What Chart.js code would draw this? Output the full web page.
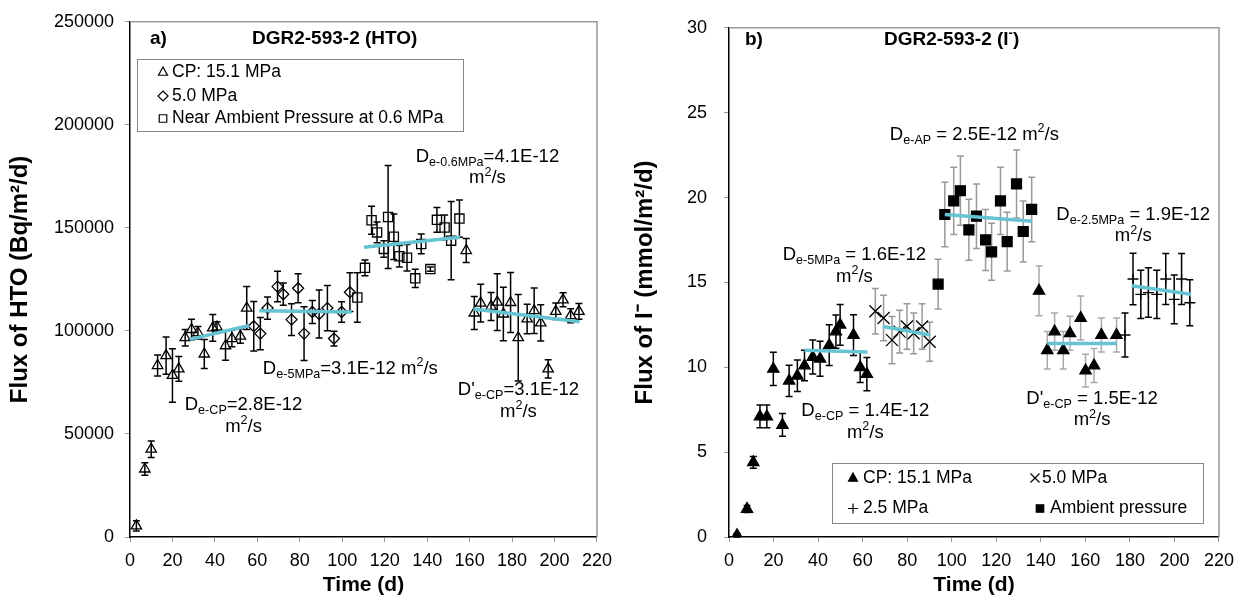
<!DOCTYPE html>
<html>
<head>
<meta charset="utf-8">
<title>DGR2-593-2 flux</title>
<script src="https://cdn.jsdelivr.net/npm/chart.js@4.4.1/dist/chart.umd.min.js"></script>
<style>
  html, body { margin: 0; padding: 0; background: #fff; }
  #wrap { position: relative; width: 1242px; height: 601px; }
  .panel { position: absolute; top: 0; height: 601px; }
</style>
</head>
<body>
<div id="wrap">
  <div class="panel" style="left:0;width:620px"><canvas id="chartA"></canvas></div>
  <div class="panel" style="left:620px;width:622px"><canvas id="chartB"></canvas></div>
</div>
<script>
// ---- panel a) HTO flux (Bq/m2/d) ----
const aCpDay = [3, 7, 10, 13, 17, 20, 23, 26, 29, 32, 35, 39, 41, 45, 48, 52, 55];
const aCpFlux = [5400, 33000, 42600, 83200, 88000, 78400, 81600, 96700, 100700, 99100, 88800, 101500, 101900, 92800, 96300, 97500, 111100];
const aCpErr = [2500, 3000, 4000, 5100, 9000, 13000, 6000, 4000, 5000, 3000, 7000, 6500, 2500, 7000, 4000, 3500, 10400];

const aP5Day = [58.3, 61.4, 64.8, 69.5, 72.2, 76.1, 79.2, 82.0, 85.9, 89.1, 93.0, 96.1, 99.7, 103.6];
const aP5Flux = [102300, 98700, 111100, 121500, 117800, 105500, 120700, 98700, 109200, 108200, 111100, 96300, 109200, 118800];
const aP5Err = [12000, 7800, 5400, 7400, 5400, 7700, 7000, 13000, 5600, 11600, 11000, 3600, 5000, 9400];

const aAmbDay = [107.1, 110.7, 113.8, 116.4, 119.6, 121.6, 124.3, 126.9, 130.5, 134.4, 137.2, 141.5, 144.6, 148.2, 151.3, 155.2];
const aAmbFlux = [116200, 130600, 153700, 147800, 139800, 155300, 145700, 136200, 135500, 125500, 142200, 130000, 153900, 150200, 143800, 154500];
const aAmbErr = [12000, 3800, 6800, 5000, 4000, 25000, 11000, 5200, 6400, 4400, 4800, 1000, 6000, 6000, 19000, 9000];

const aCp2Day = [158.4, 162.2, 165.2, 170.1, 173.0, 175.9, 179.3, 182.9, 187.1, 190.4, 193.5, 197.0, 200.6, 204.0, 207.6, 211.5];
const aCp2Flux = [139000, 108700, 113500, 111900, 114000, 108200, 113800, 96700, 105800, 109800, 103900, 81600, 109500, 115100, 107400, 109500];
const aCp2Err = [5800, 8000, 9200, 6800, 13800, 13000, 14600, 21000, 7200, 11000, 8800, 4400, 4000, 3400, 3400, 3800];

// fitted segments (start/end)
const aFitCpDay = [28.1, 56.2], aFitCpFlux = [95900, 102600];
const aFitP5Day = [60.9, 104.4], aFitP5Flux = [109800, 109200];
const aFitAmbDay = [110.2, 155.5], aFitAmbFlux = [140600, 145400];
const aFitCp2Day = [161.8, 211.8], aFitCp2Flux = [110600, 104400];

// ---- panel b) iodide flux (mmol/m2/d) ----
const bCpDay = [3.6, 8.1, 10.9, 13.9, 17.0, 19.9, 24.0, 27.0, 30.7, 33.9, 37.6, 40.9, 45.0, 48.0, 49.9, 55.9, 58.9, 61.9];
const bCpFlux = [0.1, 1.65, 4.4, 7.1, 7.1, 9.9, 6.6, 9.2, 9.5, 10.1, 10.6, 10.5, 11.3, 12.1, 12.5, 11.9, 10.0, 9.6];
const bCpErr = [0.1, 0.2, 0.35, 0.67, 0.67, 0.98, 0.67, 0.92, 0.93, 0.9, 1.0, 1.03, 1.2, 0.98, 1.2, 1.2, 0.9, 0.98];

const bP5Day = [65.7, 69.4, 73.2, 76.6, 79.9, 82.9, 86.7, 90.1];
const bP5Flux = [13.3, 12.9, 11.6, 12.1, 12.4, 12.0, 12.4, 11.5];
const bP5Err = [1.34, 1.34, 1.39, 1.26, 1.34, 1.2, 1.34, 1.15];

const bAmbDay = [93.9, 96.9, 100.9, 103.9, 107.7, 111.1, 115.2, 117.9, 121.9, 124.9, 129.1, 132.1, 135.9];
const bAmbFlux = [14.9, 19.0, 19.8, 20.4, 18.1, 18.9, 17.5, 16.8, 19.8, 17.4, 20.8, 18.0, 19.3];
const bAmbErr = [1.46, 1.9, 1.98, 2.04, 1.8, 1.9, 1.8, 1.68, 1.98, 1.73, 2.0, 1.8, 1.9];

const bCp2Day = [139.2, 142.9, 146.2, 150.1, 153.1, 157.9, 160.1, 163.9, 167.2, 174.0];
const bCp2Flux = [14.5, 11.0, 12.1, 11.0, 12.0, 12.9, 9.8, 10.1, 11.9, 11.9];
const bCp2Err = [1.46, 1.1, 1.1, 1.1, 1.0, 1.3, 0.96, 1.0, 1.0, 1.0];

const b25Day = [177.8, 181.4, 184.9, 188.3, 192.1, 196.1, 199.9, 203.2, 206.9];
const b25Flux = [11.9, 15.2, 14.3, 14.4, 14.3, 15.2, 14.0, 15.2, 13.8];
const b25Err = [1.3, 1.52, 1.42, 1.46, 1.42, 1.5, 1.44, 1.5, 1.36];

const bFitCpDay = [33.9, 62.2], bFitCpFlux = [11.0, 10.9];
const bFitP5Day = [69.1, 90.4], bFitP5Flux = [12.4, 11.9];
const bFitAmbDay = [96.9, 136.2], bFitAmbFlux = [19.0, 18.6];
const bFitCp2Day = [142.9, 174.1], bFitCp2Flux = [11.4, 11.4];
const bFit25Day = [180.8, 207.4], bFit25Flux = [14.8, 14.3];

const timeTicks = [0, 20, 40, 60, 80, 100, 120, 140, 160, 180, 200, 220];

// ---------------------------------------------------------------
const FONT = '"Liberation Sans", Arial, Helvetica, sans-serif';
const FIT = '#66c3d3';
Chart.defaults.font.family = FONT;
Chart.defaults.color = '#000';

function pts(xs, ys) {
  return xs.map((x, i) => ({ x, y: ys[i] }));
}

function series(label, xs, ys, errs, style, filled, radius, errColor) {
  return {
    type: 'scatter',
    label,
    data: pts(xs, ys),
    err: errs,
    errColor: errColor || '#000',
    pointStyle: style,
    pointRadius: radius,
    pointHoverRadius: radius,
    pointBorderColor: '#000',
    pointBackgroundColor: filled ? '#000' : 'rgba(0,0,0,0)',
    pointBorderWidth: 1.3,
    showLine: false,
    order: 1,
  };
}

function fitLine(xs, ys) {
  return {
    type: 'line',
    data: pts(xs, ys),
    borderColor: FIT,
    borderWidth: 3.5,
    pointRadius: 0,
    fill: false,
    showLine: true,
    order: 0,
  };
}

// Draw a run of text pieces: ['text', ''|'sub'|'sup']
function drawRich(ctx, parts, x, y, size, align, bold) {
  const b = bold ? 'bold ' : '';
  let w = 0;
  parts.forEach(([t, k]) => {
    ctx.font = b + (k ? size * 0.68 : size) + 'px ' + FONT;
    w += ctx.measureText(t).width;
  });
  let cx = align === 'left' ? x : x - w / 2;
  ctx.textBaseline = 'middle';
  ctx.textAlign = 'left';
  parts.forEach(([t, k]) => {
    ctx.font = b + (k ? size * 0.68 : size) + 'px ' + FONT;
    let dy = 0;
    if (k === 'sub') dy = size * 0.3;
    if (k === 'sup') dy = -size * 0.32;
    ctx.fillText(t, cx, y + dy);
    cx += ctx.measureText(t).width;
  });
}

function drawMark(ctx, style, x, y, r, filled) {
  ctx.beginPath();
  if (style === 'triangle') {
    ctx.moveTo(x, y - r);
    ctx.lineTo(x + r * 0.9, y + r * 0.65);
    ctx.lineTo(x - r * 0.9, y + r * 0.65);
    ctx.closePath();
  } else if (style === 'rectRot') {
    ctx.moveTo(x, y - r); ctx.lineTo(x + r, y); ctx.lineTo(x, y + r); ctx.lineTo(x - r, y);
    ctx.closePath();
  } else if (style === 'rect') {
    ctx.rect(x - r * 0.75, y - r * 0.75, r * 1.5, r * 1.5);
  } else if (style === 'cross') {
    ctx.moveTo(x - r, y); ctx.lineTo(x + r, y); ctx.moveTo(x, y - r); ctx.lineTo(x, y + r);
  } else if (style === 'crossRot') {
    ctx.moveTo(x - r, y - r); ctx.lineTo(x + r, y + r); ctx.moveTo(x - r, y + r); ctx.lineTo(x + r, y - r);
  }
  ctx.lineWidth = 1.2;
  ctx.strokeStyle = '#000';
  if (filled) { ctx.fillStyle = '#000'; ctx.fill(); }
  ctx.stroke();
}

// error bars under the markers, plus the grey plot frame
const errorBars = {
  id: 'errorBars',
  beforeDatasetsDraw(chart) {
    const { ctx, chartArea: a, scales: { x, y } } = chart;
    ctx.save();
    ctx.strokeStyle = '#999';
    ctx.lineWidth = 1.5;
    ctx.beginPath();
    ctx.moveTo(a.left, a.top); ctx.lineTo(a.right, a.top); ctx.lineTo(a.right, a.bottom);
    ctx.stroke();
    chart.data.datasets.forEach((ds) => {
      if (!ds.err) return;
      ctx.strokeStyle = ds.errColor;
      ctx.lineWidth = 1.5;
      ds.data.forEach((p, i) => {
        const e = ds.err[i];
        const px = x.getPixelForValue(p.x);
        const y1 = y.getPixelForValue(p.y - e);
        const y2 = y.getPixelForValue(p.y + e);
        ctx.beginPath();
        ctx.moveTo(px, y1); ctx.lineTo(px, y2);
        ctx.moveTo(px - 3.5, y1); ctx.lineTo(px + 3.5, y1);
        ctx.moveTo(px - 3.5, y2); ctx.lineTo(px + 3.5, y2);
        ctx.stroke();
      });
    });
    ctx.restore();
  },
};

// titles, D_e annotations, legend box
function decor(cfg) {
  return {
    id: 'decor',
    afterDraw(chart) {
      const { ctx, scales: { x, y } } = chart;
      ctx.save();
      ctx.fillStyle = '#000';
      drawRich(ctx, [[cfg.tag, '']], cfg.tagX, cfg.titleY, 19, 'left', true);
      drawRich(ctx, cfg.title, cfg.titleX, cfg.titleY, 19, 'left', true);
      cfg.notes.forEach((n) => {
        const cx = x.getPixelForValue(n.x);
        const cy = y.getPixelForValue(n.y);
        n.lines.forEach((ln, i) => drawRich(ctx, ln, cx, cy + i * 21.5, 18.5, 'center'));
      });
      const L = cfg.legend;
      ctx.fillStyle = '#fff';
      ctx.fillRect(L.x0, L.y0, L.x1 - L.x0, L.y1 - L.y0);
      ctx.strokeStyle = '#888';
      ctx.lineWidth = 1;
      ctx.strokeRect(L.x0 + 0.5, L.y0 + 0.5, L.x1 - L.x0, L.y1 - L.y0);
      L.items.forEach((it) => {
        drawMark(ctx, it.style, it.mx, it.y, it.r, it.filled);
        ctx.fillStyle = '#000';
        drawRich(ctx, [[it.text, '']], it.tx, it.y, 17.5, 'left');
      });
      ctx.restore();
    },
  };
}

function axes(yMax, yStep, yWidth, yTitle, yTitlePad, yTickPad) {
  return {
    x: {
      type: 'linear', min: 0, max: 220,
      afterBuildTicks: (s) => { s.ticks = timeTicks.map((v) => ({ value: v })); },
      ticks: { font: { size: 18 }, color: '#000', padding: 8, autoSkip: false, maxRotation: 0 },
      grid: { drawOnChartArea: false, tickLength: 5, color: '#999' },
      border: { color: '#000', width: 1.5 },
      title: { display: true, text: 'Time (d)', font: { size: 21, weight: 'bold' }, color: '#000', padding: { top: 0, bottom: 3 } },
      afterFit: (s) => { s.height = 64; },
    },
    y: {
      min: 0, max: yMax,
      ticks: { stepSize: yStep, font: { size: 18 }, color: '#000', padding: yTickPad, callback: (v) => String(v) },
      grid: { drawOnChartArea: false, tickLength: 5, color: '#999' },
      border: { color: '#000', width: 1.5 },
      title: { display: true, text: yTitle, font: { size: 24, weight: 'bold' }, color: '#000', padding: { top: yTitlePad, bottom: 0 } },
      afterFit: (s) => { s.width = yWidth; },
    },
  };
}

const baseOpts = {
  responsive: true,
  maintainAspectRatio: false,
  animation: false,
  devicePixelRatio: 1,
  events: [],
  plugins: { legend: { display: false }, tooltip: { enabled: false } },
};

const m2s = [['m', ''], ['2', 'sup'], ['/s', '']];

new Chart(document.getElementById('chartA'), {
  type: 'scatter',
  data: {
    datasets: [
      fitLine(aFitCpDay, aFitCpFlux),
      fitLine(aFitP5Day, aFitP5Flux),
      fitLine(aFitAmbDay, aFitAmbFlux),
      fitLine(aFitCp2Day, aFitCp2Flux),
      series('CP: 15.1 MPa', aCpDay, aCpFlux, aCpErr, 'triangle', false, 6),
      series('5.0 MPa', aP5Day, aP5Flux, aP5Err, 'rectRot', false, 5.5),
      series('Near Ambient Pressure at 0.6 MPa', aAmbDay, aAmbFlux, aAmbErr, 'rect', false, 6.5),
      series('CP: 15.1 MPa', aCp2Day, aCp2Flux, aCp2Err, 'triangle', false, 6),
    ],
  },
  options: Object.assign({}, baseOpts, {
    layout: { padding: { top: 16, right: 20, left: 0, bottom: 0 } },
    scales: axes(250000, 50000, 130, 'Flux of HTO (Bq/m²/d)', 6, 11),
  }),
  plugins: [errorBars, decor({
    tag: 'a)', tagX: 150, titleX: 252, titleY: 39,
    title: [['DGR2-593-2 (HTO)', '']],
    notes: [
      { x: 168.4, y: 184500, lines: [[['D', ''], ['e-0.6MPa', 'sub'], ['=4.1E-12', '']], m2s] },
      { x: 103.8, y: 81600, lines: [[['D', ''], ['e-5MPa', 'sub'], ['=3.1E-12 ', ''], ['m', ''], ['2', 'sup'], ['/s', '']]] },
      { x: 53.5, y: 64000, lines: [[['D', ''], ['e-CP', 'sub'], ['=2.8E-12', '']], m2s] },
      { x: 183, y: 71200, lines: [[["D'", ''], ['e-CP', 'sub'], ['=3.1E-12', '']], m2s] },
    ],
    legend: {
      x0: 137, y0: 59, x1: 463, y1: 131,
      items: [
        { style: 'triangle', filled: false, r: 5, mx: 163, tx: 172, y: 72, text: 'CP: 15.1 MPa' },
        { style: 'rectRot', filled: false, r: 5, mx: 163, tx: 172, y: 96, text: '5.0 MPa' },
        { style: 'rect', filled: false, r: 5, mx: 163, tx: 172, y: 118.5, text: 'Near Ambient Pressure at 0.6 MPa' },
      ],
    },
  })],
});

new Chart(document.getElementById('chartB'), {
  type: 'scatter',
  data: {
    datasets: [
      fitLine(bFitCpDay, bFitCpFlux),
      fitLine(bFitP5Day, bFitP5Flux),
      fitLine(bFitAmbDay, bFitAmbFlux),
      fitLine(bFitCp2Day, bFitCp2Flux),
      fitLine(bFit25Day, bFit25Flux),
      series('CP: 15.1 MPa', bCpDay, bCpFlux, bCpErr, 'triangle', true, 6.5, '#000'),
      series('5.0 MPa', bP5Day, bP5Flux, bP5Err, 'crossRot', false, 8.5, '#999'),
      series('Ambient pressure', bAmbDay, bAmbFlux, bAmbErr, 'rect', true, 7, '#999'),
      series('CP: 15.1 MPa', bCp2Day, bCp2Flux, bCp2Err, 'triangle', true, 6.5, '#aaa'),
      series('2.5 MPa', b25Day, b25Flux, b25Err, 'cross', false, 5.5, '#000'),
    ],
  },
  options: Object.assign({}, baseOpts, {
    layout: { padding: { top: 16, right: 23, left: 0, bottom: 0 } },
    scales: axes(30, 5, 109, 'Flux of I⁻ (mmol/m²/d)', 11, 17),
  }),
  plugins: [errorBars, decor({
    tag: 'b)', tagX: 125, titleX: 264, titleY: 40,
    title: [['DGR2-593-2 (I', ''], ['-', 'sup'], [')', '']],
    notes: [
      { x: 110.2, y: 23.7, lines: [[['D', ''], ['e-AP', 'sub'], [' = 2.5E-12 ', ''], ['m', ''], ['2', 'sup'], ['/s', '']]] },
      { x: 56.3, y: 16.6, lines: [[['D', ''], ['e-5MPa', 'sub'], [' = 1.6E-12', '']], m2s] },
      { x: 61.2, y: 7.4, lines: [[['D', ''], ['e-CP', 'sub'], [' = 1.4E-12', '']], m2s] },
      { x: 181.5, y: 19.0, lines: [[['D', ''], ['e-2.5MPa', 'sub'], [' = 1.9E-12', '']], m2s] },
      { x: 163, y: 8.16, lines: [[["D'", ''], ['e-CP', 'sub'], [' = 1.5E-12', '']], m2s] },
    ],
    legend: {
      x0: 212, y0: 463, x1: 583, y1: 523,
      items: [
        { style: 'triangle', filled: true, r: 5, mx: 233, tx: 243, y: 478, text: 'CP: 15.1 MPa' },
        { style: 'crossRot', filled: false, r: 4.5, mx: 415, tx: 422, y: 478, text: '5.0 MPa' },
        { style: 'cross', filled: false, r: 5, mx: 233, tx: 243, y: 508.5, text: '2.5 MPa' },
        { style: 'rect', filled: true, r: 5, mx: 420, tx: 430, y: 508.5, text: 'Ambient pressure' },
      ],
    },
  })],
});
</script>
</body>
</html>
